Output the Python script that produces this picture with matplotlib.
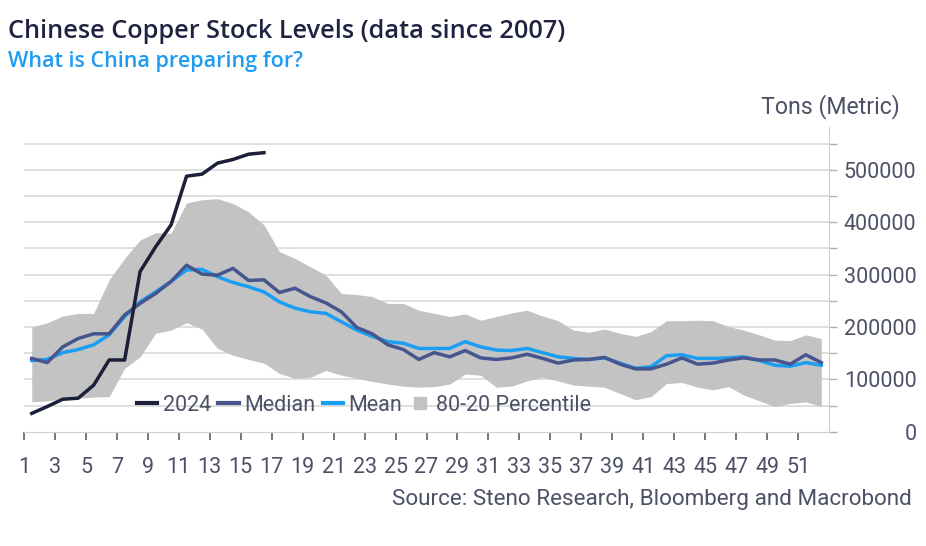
import matplotlib.pyplot as plt
from matplotlib.lines import Line2D
import numpy as np

# week numbers 1..52, values in metric tons
weeks = np.arange(1, 53)

stocks_2024 = [35000, 48000, 62000, 64000, 89000, 137000, 137000, 306000, 353000, 395000,
               488000, 492000, 513000, 520000, 530000, 533000]

median = [140000, 132000, 162000, 178000, 187000, 187000, 223000, 245000, 264000, 287000,
          318000, 301000, 299000, 312000, 289000, 290000, 266000, 274000, 258000, 246000,
          229000, 199000, 187000, 166000, 157000, 138000, 151000, 143000, 155000, 141000,
          138000, 141000, 148000, 140000, 131000, 137000, 138000, 142000, 129000, 120000,
          120000, 129000, 141000, 129000, 131000, 137000, 141000, 137000, 137000, 129000,
          147000, 132000]

mean = [136000, 138000, 151000, 157000, 166000, 185000, 220000, 248000, 267000, 287000,
        309000, 310000, 296000, 285000, 277000, 267000, 248000, 236000, 229000, 226000,
        210000, 194000, 182000, 172000, 169000, 159000, 159000, 159000, 172000, 162000,
        156000, 155000, 159000, 151000, 143000, 140000, 138000, 141000, 131000, 121000,
        124000, 145000, 147000, 140000, 140000, 141000, 143000, 136000, 127000, 125000,
        132000, 127000]

pct_80 = [200000, 208000, 221000, 226000, 226000, 290000, 331000, 366000, 380000, 379000,
          437000, 443000, 445000, 436000, 420000, 395000, 344000, 331000, 315000, 299000,
          264000, 262000, 258000, 245000, 245000, 232000, 226000, 220000, 225000, 213000,
          220000, 227000, 232000, 221000, 212000, 194000, 190000, 196000, 188000, 182000,
          191000, 212000, 212000, 213000, 212000, 201000, 194000, 185000, 175000, 174000,
          185000, 178000]

pct_20 = [57000, 59000, 62000, 64000, 66000, 67000, 121000, 143000, 188000, 194000,
          208000, 196000, 159000, 146000, 138000, 131000, 111000, 102000, 104000, 117000,
          108000, 102000, 96000, 91000, 87000, 85000, 86000, 91000, 110000, 108000,
          85000, 87000, 97000, 104000, 97000, 89000, 87000, 85000, 73000, 61000,
          67000, 92000, 94000, 85000, 80000, 86000, 70000, 59000, 48000, 54000,
          57000, 48000]

tick_weeks = list(range(1, 52, 2))

txt_col = '#4d5166'
plt.rcParams['font.family'] = ['Roboto', 'DejaVu Sans']

fig = plt.figure(figsize=(9.26, 5.46), dpi=100)
ax = fig.add_axes([24 / 926, 1 - 431.7 / 546, 805 / 926, (431.7 - 127) / 546])

# data sits in the middle of each week slot
xpos = weeks + 0.5
ax.fill_between(xpos, pct_20, pct_80, color='#c3c3c3', linewidth=0, zorder=1)
ax.plot(xpos, mean, color='#1a9ef2', lw=2.5, zorder=3)
ax.plot(xpos, median, color='#47558f', lw=2.5, zorder=4)
ax.plot(xpos[:len(stocks_2024)], stocks_2024, color='#1b1f3a', lw=2.5, zorder=5)

ax.set_xlim(1, 53)
ax.set_ylim(0, 582000)

for v in range(50000, 600000, 50000):
    ax.axhline(v, color='#dcdcdc', lw=1.3, zorder=0)

ax.yaxis.tick_right()
ax.set_yticks(range(0, 600000, 50000))
ax.set_yticklabels([f'{v}' if v % 100000 == 0 else '' for v in range(0, 600000, 50000)])
ax.tick_params(axis='y', length=6, width=1, color='#b0b0b0', pad=57,
               labelsize=15.5, labelcolor=txt_col)
for lab in ax.get_yticklabels():
    lab.set_horizontalalignment('right')

ax.set_xticks(tick_weeks)
ax.set_xticklabels([str(w) for w in tick_weeks])
ax.tick_params(axis='x', length=6, width=1.2, color='#606060', pad=12,
               labelsize=15.5, labelcolor=txt_col)

for s in ['top', 'left']:
    ax.spines[s].set_visible(False)
ax.spines['right'].set_color('#d0d0d0')
ax.spines['bottom'].set_color('#d0d0d0')

handles = [Line2D([], [], color='#1b1f3a', lw=3),
           Line2D([], [], color='#47558f', lw=3),
           Line2D([], [], color='#1a9ef2', lw=3),
           Line2D([], [], color='#c3c3c3', marker='s', ls='none', markersize=9)]
leg = ax.legend(handles, ['2024', 'Median', 'Mean', '80-20 Percentile'], ncol=4,
                loc='center left', bbox_to_anchor=(0.14, 0.086), frameon=False,
                fontsize=15.5, handlelength=0.95, handletextpad=0.25, columnspacing=0.35,
                borderpad=0, borderaxespad=0)
for t in leg.get_texts():
    t.set_color(txt_col)

fig.text(8 / 926, 1 - 32 / 546, 'Chinese Copper Stock Levels (data since 2007)',
         fontsize=18.2, fontweight='semibold', color='#1f2340', family=['Open Sans', 'DejaVu Sans'],
         va='center', ha='left')
fig.text(8 / 926, 1 - 62 / 546, 'What is China preparing for?',
         fontsize=15.5, fontweight='semibold', color='#1e9cf2', family=['Open Sans', 'DejaVu Sans'],
         va='center', ha='left')
fig.text(900 / 926, 1 - 107 / 546, 'Tons (Metric)', fontsize=16.7, color=txt_col,
         ha='right', va='center')
fig.text(912 / 926, 1 - 500 / 546, 'Source: Steno Research, Bloomberg and Macrobond',
         fontsize=16.2, color=txt_col, ha='right', va='center')

fig.savefig('out.png', dpi=100)
